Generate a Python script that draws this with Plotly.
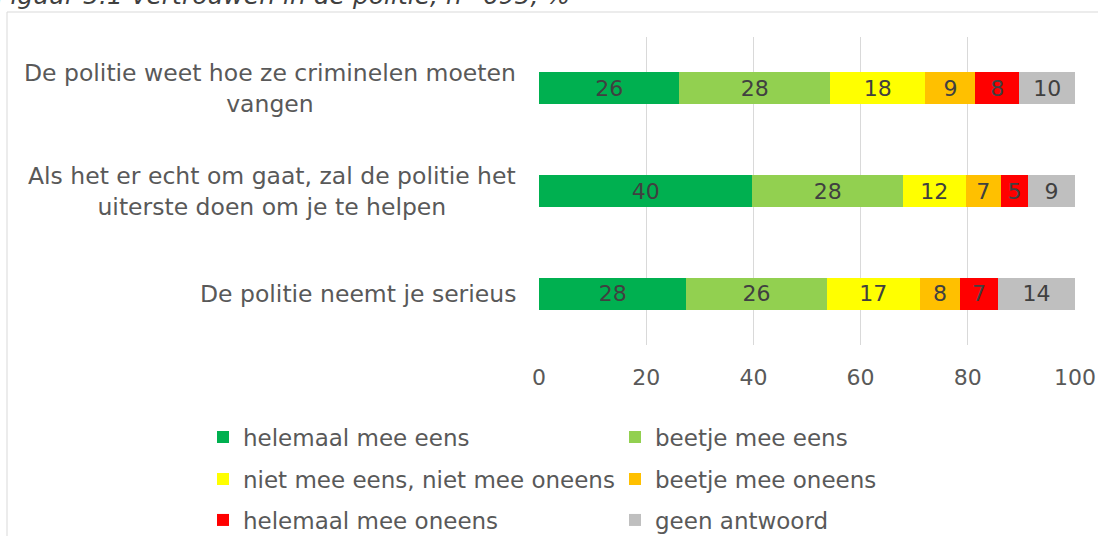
import plotly.graph_objects as go

# ---- data ----
statements = [
    "De politie weet hoe ze criminelen moeten<br>vangen",
    "Als het er echt om gaat, zal de politie het<br>uiterste doen om je te helpen",
    "De politie neemt je serieus",
]
series_names = [
    "helemaal mee eens",
    "beetje mee eens",
    "niet mee eens, niet mee oneens",
    "beetje mee oneens",
    "helemaal mee oneens",
    "geen antwoord",
]
helemaal_eens = [26.2, 39.8, 27.5]
beetje_eens = [28.1, 28.1, 26.2]
neutraal = [17.8, 11.7, 17.3]
beetje_oneens = [9.3, 6.6, 7.6]
helemaal_oneens = [8.2, 5.0, 7.0]
geen_antwoord = [10.4, 8.8, 14.4]
x_ticks = [0, 20, 40, 60, 80, 100]
title_text = "Figuur 5.1 Vertrouwen in de politie, n=695, %"

values = [helemaal_eens, beetje_eens, neutraal, beetje_oneens, helemaal_oneens, geen_antwoord]
colors = ["#00B050", "#92D050", "#FFFF00", "#FFC000", "#FF0000", "#BFBFBF"]
legend_ids = ["legend", "legend", "legend2", "legend2", "legend3", "legend3"]

# ---- layout geometry (pixels) ----
W, H = 1098, 536
L, R, T, B = 539, 1075, 37, 345


def px_x(p):
    return (p - L) / (R - L)


def px_y(p):
    return (B - p) / (B - T)


FONT = "DejaVu Sans"
TEXT_COLOR = "#595959"

fig = go.Figure()
for name, vals, col, lg in zip(series_names, values, colors, legend_ids):
    fig.add_trace(go.Bar(
        y=statements, x=vals, name=name, orientation="h",
        marker=dict(color=col, line=dict(width=0)),
        texttemplate="%{x:.0f}", textposition="inside",
        insidetextanchor="middle", textangle=0,
        textfont=dict(family=FONT, size=22, color="#404040"),
        constraintext="none", legend=lg, hoverinfo="skip",
    ))

# category labels as centred multi-line annotations
for s in statements:
    fig.add_annotation(
        x=px_x(518), xref="paper", y=s, yref="y",
        text=s, showarrow=False, xanchor="right", yanchor="middle",
        align="center", font=dict(family=FONT, size=23.5, color=TEXT_COLOR),
    )

# title (cut off at the top in the reference)
fig.add_annotation(
    x=px_x(-6), xref="paper", y=px_y(-4), yref="paper",
    text="<i>" + title_text + "</i>", showarrow=False,
    xanchor="left", yanchor="middle",
    font=dict(family=FONT, size=25, color="#404040"),
)

# outer frame
fig.add_shape(type="rect", xref="paper", yref="paper",
              x0=px_x(7), x1=px_x(1110), y0=px_y(560), y1=px_y(12),
              line=dict(color="#D9D9D9", width=1), fillcolor="rgba(0,0,0,0)", layer="below")

legend_common = dict(
    orientation="h", xanchor="left", yanchor="middle",
    font=dict(family=FONT, size=23, color=TEXT_COLOR),
    bgcolor="rgba(0,0,0,0)", borderwidth=0, itemwidth=30,
    entrywidth=367, traceorder="normal",
)

fig.update_layout(
    width=W, height=H,
    margin=dict(l=L, r=W - R, t=T, b=H - B, autoexpand=False),
    paper_bgcolor="white", plot_bgcolor="white",
    barmode="stack", bargap=0.69,
    showlegend=True,
    legend=dict(x=px_x(203), y=px_y(437), **legend_common),
    legend2=dict(x=px_x(203), y=px_y(479), **legend_common),
    legend3=dict(x=px_x(203), y=px_y(520), **legend_common),
    xaxis=dict(range=[0, 100], tickvals=x_ticks, showgrid=True,
               gridcolor="#D9D9D9", gridwidth=1, zeroline=False, showline=False,
               ticks="", ticklabelstandoff=17,
               tickfont=dict(family=FONT, size=22, color=TEXT_COLOR),
               fixedrange=True),
    yaxis=dict(categoryorder="array", categoryarray=statements[::-1],
               showticklabels=False, showgrid=False, zeroline=False,
               showline=False, ticks="", fixedrange=True),
)

fig.write_html("out.html", config={"displayModeBar": False},
               post_script="document.body.style.margin='0px';document.body.style.overflow='hidden';")
